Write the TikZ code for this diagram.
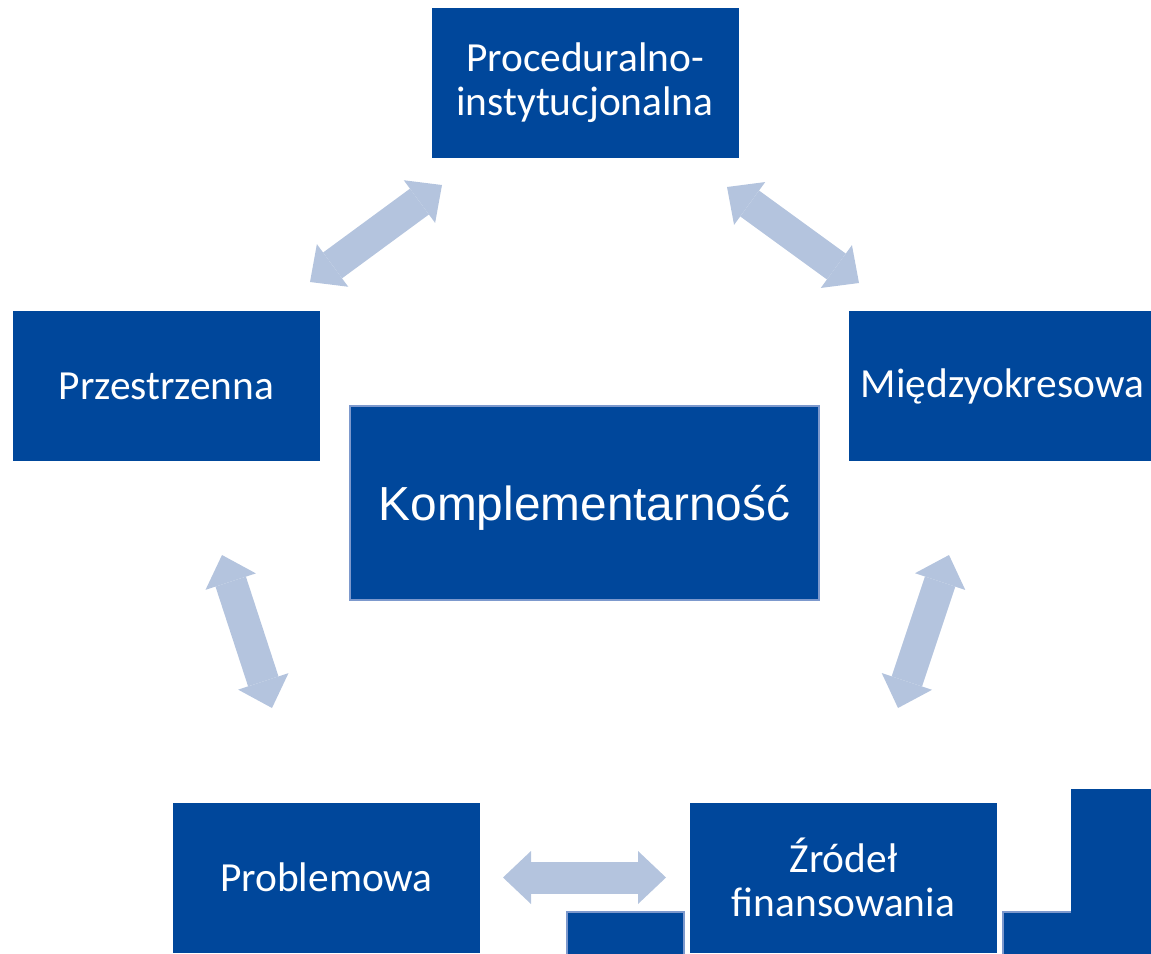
\documentclass[tikz,border=0pt]{standalone}
\usepackage{fontspec}
\setmainfont{Carlito}
\newfontfamily\arialfont{Liberation Sans}
\usetikzlibrary{arrows.meta}
\definecolor{boxblue}{RGB}{0,71,155}
\definecolor{arrowblue}{RGB}{180,196,222}
\definecolor{edgeblue}{RGB}{125,153,205}

\begin{document}
\begin{tikzpicture}[x=0.5pt,y=-0.5pt,
  box/.style={fill=boxblue, text=white, minimum width=153.5pt, minimum height=75pt,
    inner sep=0pt, align=center, font=\fontsize{20.7}{21.7}\selectfont},
  dblarrow/.style={draw=arrowblue, line width=16pt,
    >={Triangle[width=26.5pt,length=14pt,line width'=0pt]}, <->}]
  \useasboundingbox (0,0) rectangle (1151,953);
  \clip (0,0) rectangle (1151,953);
  % boxes
  \node[box] (proc) at (585,82.5) {Proceduralno-\\instytucjonalna};
  \node[box] (przes) at (166.5,386) {Przestrzenna};
  \node[box] (miedzy) at (1002.5,386) {Międzyokresowa};
  \node[box] (probl) at (326.5,877.5) {Problemowa};
  \node[box] (zrodel) at (843.5,877.5) {Źródeł\\finansowania};
  \node[box, minimum width=234.5pt, minimum height=97pt, draw=edgeblue, line width=1pt,
    text height=22pt, text depth=4.3pt,
    font=\arialfont\fontsize{23.9}{28}\selectfont] (kompl) at (584.5,503) {Komplementarność};
  % partly hidden boxes at the bottom edge
  \draw[fill=boxblue, draw=edgeblue, line width=1pt] (567,912) rectangle (684,970);
  \draw[fill=boxblue, draw=edgeblue, line width=1pt] (1003,912) rectangle (1170,970);
  \fill[boxblue] (1071,789) rectangle (1170,913);
  % arrows
  \coordinate (a1s) at (310,282);  \coordinate (a1e) at (442,185);
  \coordinate (a2s) at (727,187);  \coordinate (a2e) at (859,283);
  \coordinate (a3s) at (222,555);  \coordinate (a3e) at (272,708);
  \coordinate (a4s) at (949,555);  \coordinate (a4e) at (898,708);
  \coordinate (a5s) at (503,877.5); \coordinate (a5e) at (666,877.5);
  \foreach \s/\e in {a1s/a1e,a2s/a2e,a3s/a3e,a4s/a4e,a5s/a5e}
    \draw[dblarrow] (\s) -- (\e);
\end{tikzpicture}
\end{document}
